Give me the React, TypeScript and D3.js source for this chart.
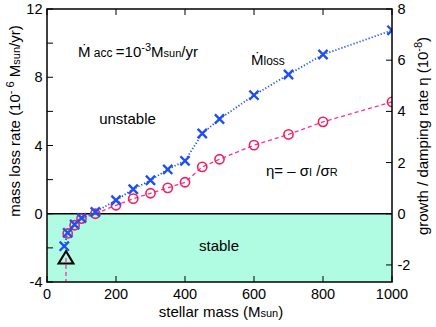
import React from 'react';
import * as d3 from 'd3';

// mass loss rate (10^-6 Msun/yr), left axis
const lossMass = [50, 60, 80, 100, 140, 200, 250, 300, 350, 400, 450, 500, 600, 700, 800, 1000];
const lossRate = [-1.9, -1.12, -0.63, -0.25, 0.1, 0.79, 1.44, 1.96, 2.6, 3.1, 4.7, 5.55, 6.95, 8.16, 9.33, 10.75];

// growth / damping rate eta (10^-8), right axis
const etaMass = [60, 80, 100, 140, 200, 250, 300, 350, 400, 450, 500, 600, 700, 800, 1000];
const etaRate = [-0.77, -0.45, -0.19, 0.0, 0.33, 0.59, 0.8, 1.01, 1.23, 1.83, 2.13, 2.68, 3.1, 3.59, 4.37];

// critical point (triangle), left axis units
const critMass = 55;
const critRate = -2.6;

const xTicks = [0, 200, 400, 600, 800, 1000];
const leftTicks = [-4, -2, 0, 2, 4, 6, 8, 10, 12];
const leftLabels = [-4, 0, 4, 8, 12];
const rightTicks = [-2, 0, 2, 4, 6, 8];

const W = 436;
const H = 327;
const L = 47, R = 392, T = 9, B = 282;
const FONT = '"Liberation Sans", Arial, Helvetica, sans-serif';

export default function App() {
  const x = d3.scaleLinear().domain([0, 1000]).range([L, R]);
  const yL = d3.scaleLinear().domain([-4, 12]).range([B, T]);
  const yR = d3.scaleLinear().domain([-8 / 3, 8]).range([B, T]);

  const lossLine = d3.line<number>()
    .x((d, i) => x(lossMass[i]))
    .y(d => yL(d));
  const etaLine = d3.line<number>()
    .x((d, i) => x(etaMass[i]))
    .y(d => yR(d));

  const blue = '#1f4ff0';
  const red = '#f0205a';
  const pink = '#ff2d9a';
  const tk = 6;

  const xMark = (cx: number, cy: number, s = 4.6) =>
    `M${cx - s},${cy - s}L${cx + s},${cy + s}M${cx - s},${cy + s}L${cx + s},${cy - s}`;

  const tx = x(critMass), ty = yL(critRate);

  return (
    <svg width={W} height={H} style={{ position: 'absolute', left: 0, top: 0, background: '#fff' }}
      fontFamily={FONT}>
      <defs>
        <clipPath id="plot">
          <rect x={L} y={T} width={R - L} height={B - T} />
        </clipPath>
      </defs>

      {/* stable region */}
      <rect x={L} y={yL(0)} width={R - L} height={B - yL(0)} fill="#b0fce2" />
      <line x1={L} x2={R} y1={yL(0)} y2={yL(0)} stroke="#000" strokeWidth={1.3} />

      {/* ticks */}
      {xTicks.map(t => (
        <g key={'x' + t}>
          <line x1={x(t)} x2={x(t)} y1={B} y2={B - tk} stroke="#000" strokeWidth={1} />
          <line x1={x(t)} x2={x(t)} y1={T} y2={T + tk} stroke="#000" strokeWidth={1} />
          <text x={x(t)} y={299} textAnchor="middle" fontSize={14.5}>{t}</text>
        </g>
      ))}
      {leftTicks.map(t => (
        <line key={'l' + t} x1={L} x2={L + tk} y1={yL(t)} y2={yL(t)} stroke="#000" strokeWidth={1} />
      ))}
      {leftLabels.map(t => (
        <text key={'ll' + t} x={42.5} y={yL(t) + 5} textAnchor="end" fontSize={14.5}>{t}</text>
      ))}
      {rightTicks.map(t => (
        <g key={'r' + t}>
          <line x1={R} x2={R - tk} y1={yR(t)} y2={yR(t)} stroke="#000" strokeWidth={1} />
          <text x={397.5} y={yR(t) + 5} fontSize={14.5}>{t}</text>
        </g>
      ))}

      <g clipPath="url(#plot)">
        {/* eta: red dashed with circles */}
        <line x1={tx} x2={tx} y1={ty} y2={B} stroke={pink} strokeWidth={1.3} strokeDasharray="4,3" />
        <path d={etaLine(etaRate) ?? ''} fill="none" stroke={pink} strokeWidth={1.3} strokeDasharray="4,3" />
        {etaRate.map((v, i) => (
          <circle key={'c' + i} cx={x(etaMass[i])} cy={yR(v)} r={4.6} fill="none" stroke={red} strokeWidth={1.6} />
        ))}

        {/* mass loss: blue dotted with crosses */}
        <path d={lossLine(lossRate) ?? ''} fill="none" stroke={blue} strokeWidth={1.8} strokeDasharray="1.2,2" />
        {lossRate.map((v, i) => (
          <path key={'m' + i} d={xMark(x(lossMass[i]), yL(v))} stroke={blue} strokeWidth={2.4} fill="none" />
        ))}

        {/* critical point */}
        <path d={`M${tx},${ty - 7}L${tx + 7.5},${ty + 5.5}L${tx - 7.5},${ty + 5.5}Z`} fill="none" stroke="#000" strokeWidth={2} />
      </g>

      {/* frame */}
      <rect x={L} y={T} width={R - L} height={B - T} fill="none" stroke="#000" strokeWidth={1.5} />

      {/* annotations */}
      <text x={78} y={57} fontSize={15}>
        Ṁ<tspan fontSize={12}> acc </tspan>=10<tspan fontSize={11} dy={-6}>-3</tspan>
        <tspan dy={6}>M</tspan><tspan fontSize={11}>sun</tspan>/yr
      </text>
      <text x={127.5} y={124} fontSize={15} textAnchor="middle">unstable</text>
      <text x={251} y={65} fontSize={15}>
        Ṁ<tspan fontSize={12}>loss</tspan>
      </text>
      <text x={266} y={176} fontSize={15}>
        η= – σ<tspan fontSize={11}>I</tspan> /σ<tspan fontSize={11}>R</tspan>
      </text>
      <text x={219} y={251} fontSize={15} textAnchor="middle">stable</text>

      {/* axis titles */}
      <text x={221} y={317} fontSize={15} textAnchor="middle">
        stellar mass (M<tspan fontSize={11}>sun</tspan>)
      </text>
      <text transform={`translate(20,121) rotate(-90)`} fontSize={15} textAnchor="middle">
        mass loss rate (10<tspan fontSize={11} dy={-6}>- 6</tspan><tspan dy={6}> M</tspan><tspan fontSize={11}>sun</tspan>/yr)
      </text>
      <text transform={`translate(428,136) rotate(-90)`} fontSize={15} textAnchor="middle">
        growth / damping rate  η  (10<tspan fontSize={11} dy={-6}>-8</tspan><tspan dy={6}>)</tspan>
      </text>
    </svg>
  );
}
